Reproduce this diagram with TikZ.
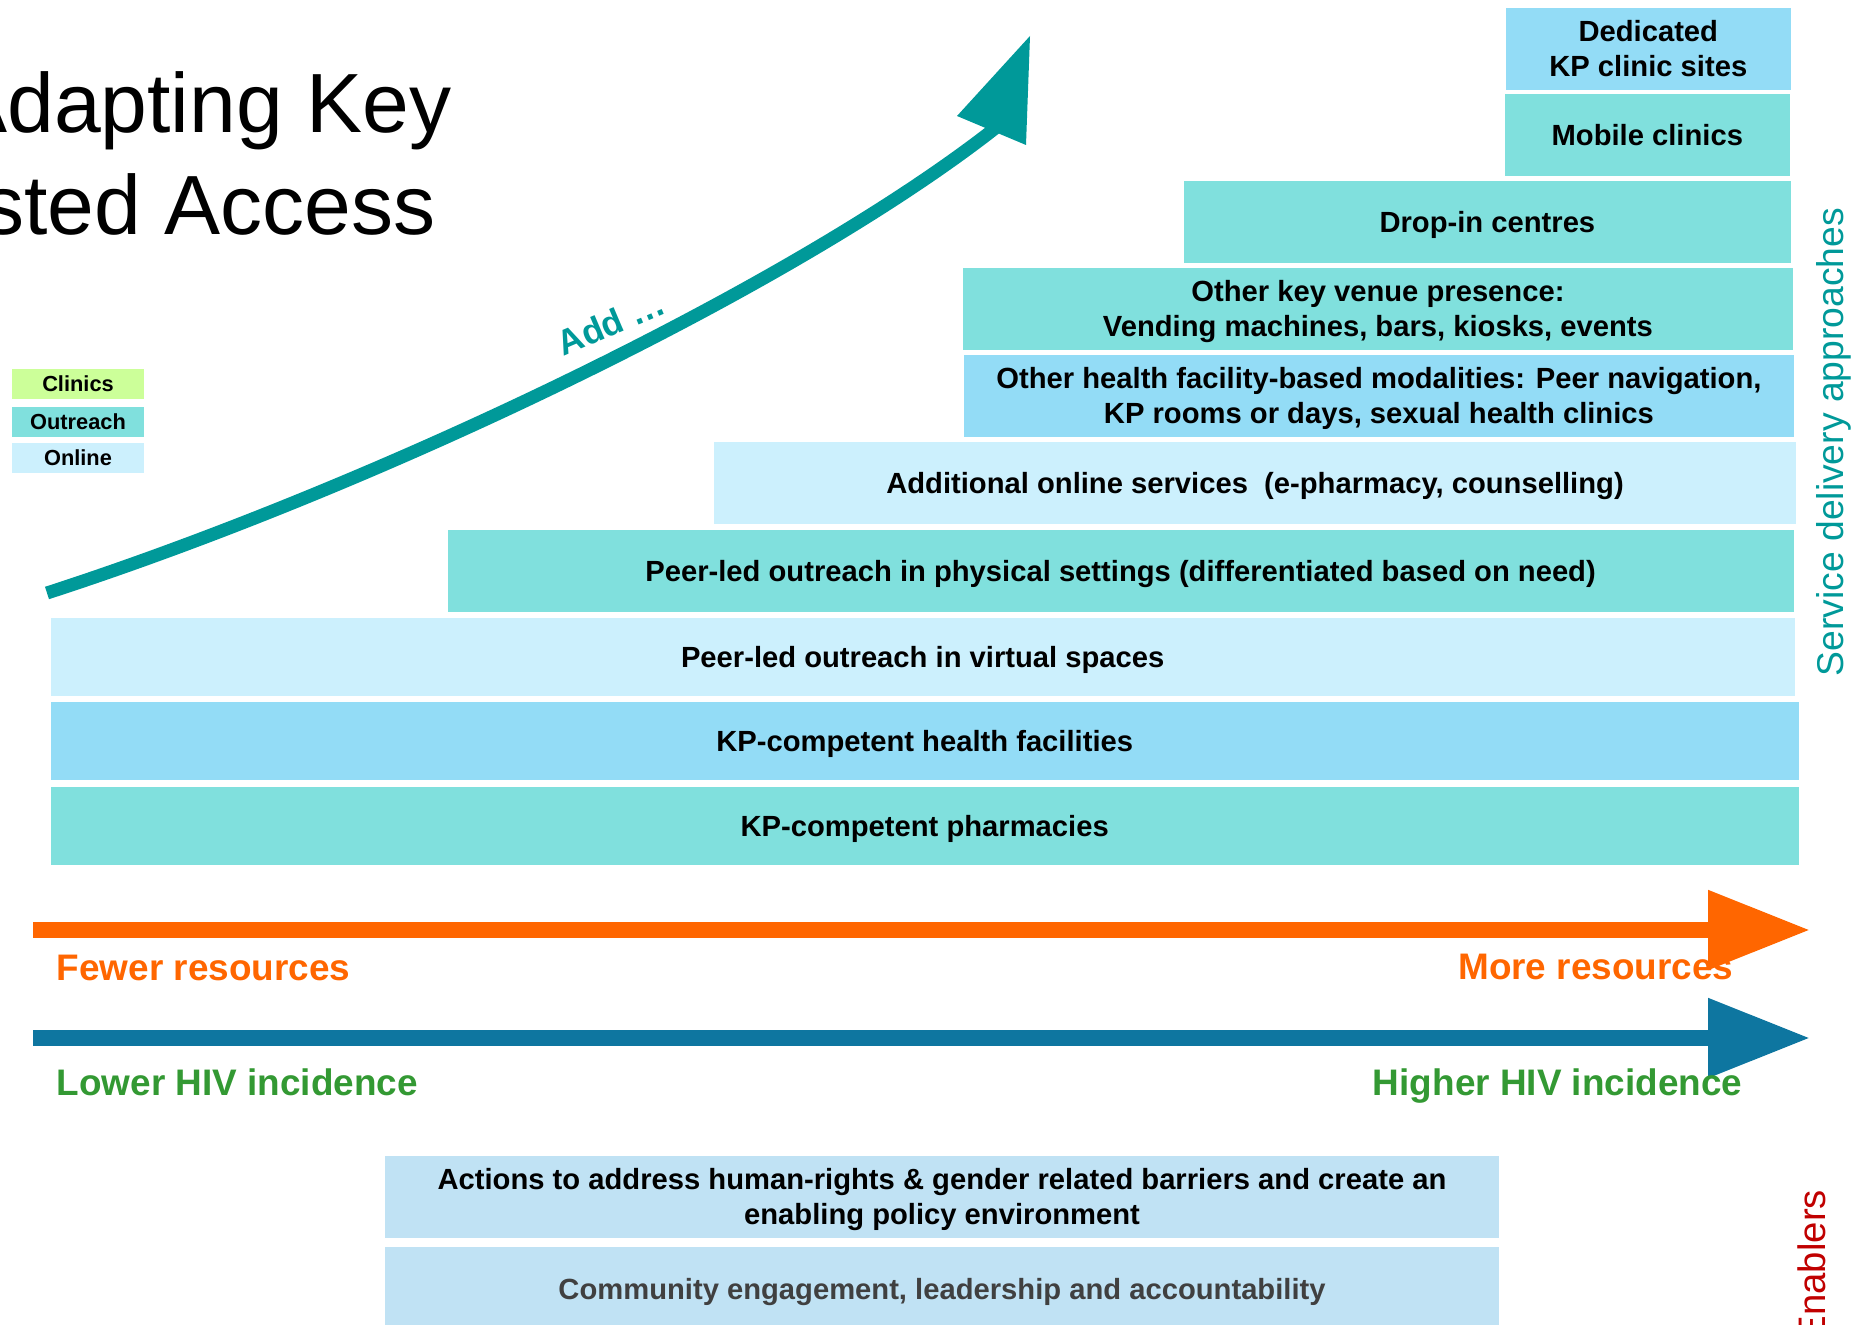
\documentclass[tikz,border=0pt]{standalone}
\usepackage{fontspec}
\setmainfont{Liberation Sans}
\usepackage{tikz}
\usetikzlibrary{arrows.meta,positioning}
\definecolor{kpteal}{RGB}{128,224,221}
\definecolor{kpblue}{RGB}{147,220,246}
\definecolor{kplight}{RGB}{204,240,253}
\definecolor{kpgreen}{RGB}{204,255,153}
\definecolor{kpenable}{RGB}{192,226,244}
\definecolor{kparrow}{RGB}{0,153,153}
\definecolor{kporange}{RGB}{255,102,0}
\definecolor{kpsea}{RGB}{14,118,160}
\definecolor{kpgrass}{RGB}{51,153,51}
\definecolor{kpred}{RGB}{192,0,0}
\definecolor{kpgrey}{RGB}{64,64,64}

\begin{document}
\begin{tikzpicture}[x=0.01cm,y=-0.01cm,
    tierbox/.style={anchor=north west,inner sep=0pt,minimum height=0.82cm,align=center,text depth=0pt,
        font=\fontsize{8.3}{9.9}\selectfont\bfseries},
    legendbox/.style={inner sep=0pt,minimum width=1.31cm,minimum height=0.30cm,text depth=0pt,
        font=\fontsize{6.2}{7}\selectfont\bfseries},
    lbl/.style={inner sep=0pt},
    bigarrow/.style={line width=4.3pt,-{Triangle[length=29pt,width=21.6pt]}}]%
    \useasboundingbox (0,0) rectangle (1869,1325);%%
    % title (cut at the left edge)
    \node[lbl,anchor=base east,font=\fontsize{23.9}{28}\selectfont] (title1) at (452,133) {Adapting Key};%%
    \node[lbl,anchor=base east,font=\fontsize{23.9}{28}\selectfont] (title2) at (436,235) {sted Access};%%
    % legend
    \node[legendbox,fill=kpgreen] (lgclinic) at (78,384) {Clinics};%%
    \node[legendbox,fill=kpteal] (lgreach) at (78,422) {Outreach};%%
    \node[legendbox,fill=kplight] (lgonline) at (78,458) {Online};%%
    % growth arrow
    \coordinate (grow0) at (47,593);%%
    \coordinate (grow1) at (998,126);%%
    \coordinate (growtip) at (1030,36);%%
    \coordinate (growl) at (957,116);%%
    \coordinate (growr) at (1026,145);%%
    \draw[kparrow,line width=3.7pt] (grow0) .. controls (380,485) and (798,284) .. (grow1);%%
    \fill[kparrow] (growtip) -- (growl) -- (growr) -- cycle;%%
    \node[lbl,anchor=base west,rotate=23,text=kparrow,font=\fontsize{10}{12}\selectfont\bfseries] (addlbl) at (563,357) {Add \dots};%%
    % service delivery tiers
    \node[tierbox,fill=kpblue,minimum width=2.85cm] (dedicated) at (1505,7) {Dedicated\\KP clinic sites};%%
    \node[tierbox,fill=kpteal,minimum width=2.85cm] (mobile) at (1504,93) {Mobile clinics};%%
    \node[tierbox,fill=kpteal,minimum width=6.07cm] (dropin) at (1183,180) {Drop-in centres};%%
    \node[tierbox,fill=kpteal,minimum width=8.30cm] (venue) at (962,267) {Other key venue presence:\\Vending machines, bars, kiosks, events};%%
    \node[tierbox,fill=kpblue,minimum width=8.30cm] (facmodes) at (963,354) {Other health facility-based modalities: Peer navigation,\\KP rooms or days, sexual health clinics};%%
    \node[tierbox,fill=kplight,minimum width=10.82cm] (online) at (713,441) {Additional online services\ \ (e-pharmacy, counselling)};%%
    \node[tierbox,fill=kpteal,minimum width=13.45cm] (physical) at (447,529) {Peer-led outreach in physical settings (differentiated based on need)};%%
    \node[tierbox,fill=kplight,minimum width=17.43cm,minimum height=0.78cm] (virtual) at (50,617) {Peer-led outreach in virtual spaces};%%
    \node[tierbox,fill=kpblue,minimum width=17.47cm,minimum height=0.78cm] (facility) at (50,701) {KP-competent health facilities};%%
    \node[tierbox,fill=kpteal,minimum width=17.47cm,minimum height=0.78cm] (pharmacy) at (50,786) {KP-competent pharmacies};%%
    \node[lbl,anchor=base west,rotate=90,text=kparrow,font=\fontsize{10.6}{12}\selectfont] (sdlabel) at (1843,677) {Service delivery approaches};%%
    % resources and incidence
    \coordinate (res0) at (33,930);%%
    \coordinate (res1) at (1810,930);%%
    \coordinate (inc0) at (33,1038);%%
    \coordinate (inc1) at (1810,1038);%%
    \draw[bigarrow,kporange] (res0) -- (res1);%%
    \draw[bigarrow,kpsea] (inc0) -- (inc1);%%
    \node[lbl,anchor=base west,text=kporange,font=\fontsize{10.5}{12}\selectfont\bfseries] (fewer) at (56,981) {Fewer resources};%%
    \node[lbl,anchor=base east,text=kporange,font=\fontsize{10.5}{12}\selectfont\bfseries] (more) at (1734,980) {More resources};%%
    \node[lbl,anchor=base west,text=kpgrass,font=\fontsize{10.5}{12}\selectfont\bfseries] (lower) at (56,1095) {Lower HIV incidence};%%
    \node[lbl,anchor=base east,text=kpgrass,font=\fontsize{10.5}{12}\selectfont\bfseries] (higher) at (1743,1095) {Higher HIV incidence};%%
    % enablers
    \node[tierbox,fill=kpenable,minimum width=11.14cm] (rights) at (384,1155) {Actions to address human-rights \& gender related barriers and create an\\enabling policy environment};%%
    \node[tierbox,fill=kpenable,minimum width=11.14cm,minimum height=0.84cm,text=kpgrey] (community) at (384,1246) {Community engagement, leadership and accountability};%%
    \node[lbl,anchor=base west,rotate=90,text=kpred,font=\fontsize{10.9}{12}\selectfont] (enablers) at (1825,1342) {Enablers};%%
\end{tikzpicture}
\end{document}
